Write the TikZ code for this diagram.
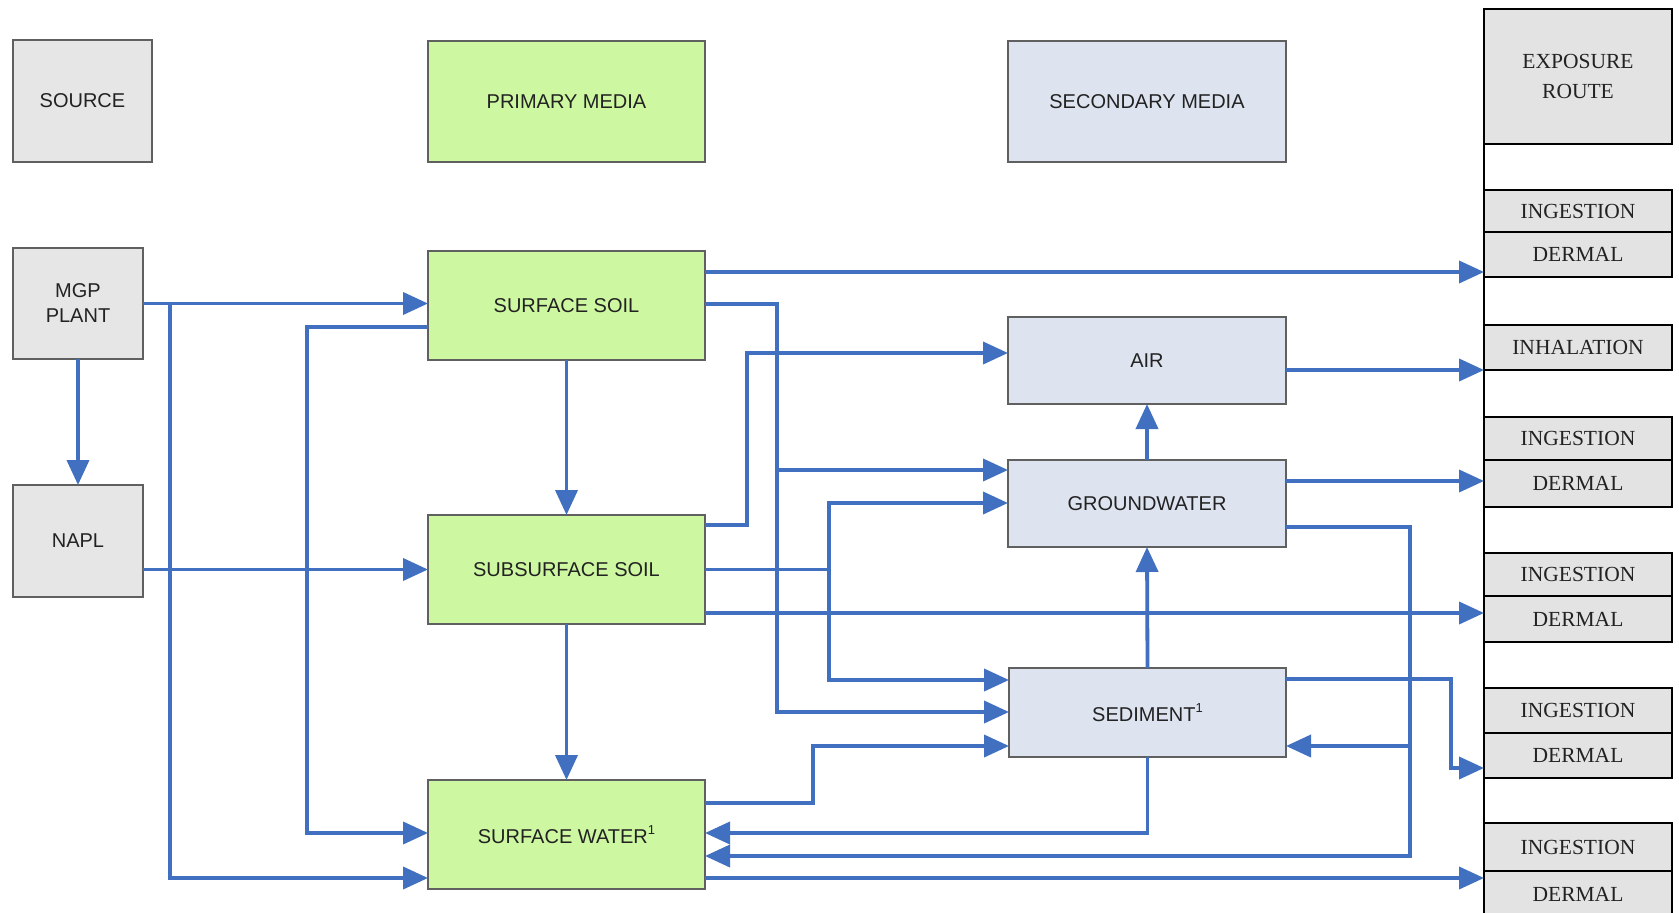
\documentclass[tikz,border=0pt]{standalone}
\usepackage{fontspec}
\setmainfont{Liberation Sans}
\newfontfamily\serifface{Liberation Serif}
\usetikzlibrary{arrows.meta}
\definecolor{lineblue}{HTML}{4070BF}
\definecolor{srcfill}{HTML}{E6E6E6}
\definecolor{srcdraw}{HTML}{606060}
\definecolor{primfill}{HTML}{CEF7A2}
\definecolor{secfill}{HTML}{DDE4F0}
\definecolor{expfill}{HTML}{E3E3E3}
\definecolor{txt}{HTML}{222222}
\newcommand{\supone}{\raisebox{9pt}{\fontsize{13}{13}\selectfont 1}}
\begin{document}
\begin{tikzpicture}[x=1pt,y=-1pt,
  box/.style={draw=srcdraw, line width=1.4pt, inner sep=0pt, outer sep=0pt, align=center,
    text=txt, font=\fontsize{20}{25}\selectfont},
  src/.style={box, fill=srcfill},
  prim/.style={box, fill=primfill},
  sec/.style={box, fill=secfill},
  expbox/.style={draw=black, line width=2.6pt, fill=expfill, inner sep=0pt, outer sep=0pt,
    minimum width=188pt, align=center, text=txt, font=\serifface\fontsize{21.5}{30}\selectfont},
  flow/.style={draw=lineblue, line width=3.8pt, -{Triangle[length=25pt,width=22pt]}},
  plain/.style={draw=lineblue, line width=3.8pt}
]
\useasboundingbox (0,0) rectangle (1679,913);
\fill[white] (0,0) rectangle (1679,913);

% header boxes
\node[src, minimum width=139pt, minimum height=122pt] (source) at (82.5,101) {SOURCE};
\node[prim, minimum width=277pt, minimum height=121pt] (primary) at (566.5,101.5) {PRIMARY MEDIA};
\node[sec, minimum width=278pt, minimum height=121pt] (secondary) at (1147,101.5) {SECONDARY MEDIA};

% source nodes
\node[src, minimum width=130pt, minimum height=111pt] (mgp) at (78,303.5) {MGP\\PLANT};
\node[src, minimum width=130pt, minimum height=112pt] (napl) at (78,541) {NAPL};

% primary media
\node[prim, minimum width=277pt, minimum height=109pt] (ssoil) at (566.5,305.5) {SURFACE SOIL};
\node[prim, minimum width=277pt, minimum height=109pt] (ssub) at (566.5,569.5) {SUBSURFACE SOIL};
\node[prim, minimum width=277pt, minimum height=109pt] (sw) at (566.5,834.5) {SURFACE WATER\supone};

% secondary media
\node[sec, minimum width=278pt, minimum height=87pt] (air) at (1147,360.5) {AIR};
\node[sec, minimum width=278pt, minimum height=87pt] (gw) at (1147,503.5) {GROUNDWATER};
\node[sec, minimum width=277pt, minimum height=89pt] (sed) at (1147.5,712.5) {SEDIMENT\supone};

% exposure route column
\coordinate (coltop) at (1484,9);
\coordinate (colbot) at (1484,920);
\draw[black, line width=2.6pt] (coltop) -- (colbot);
\node[expbox, minimum height=135pt] (er) at (1578,76.5) {EXPOSURE\\ROUTE};
\node[expbox, minimum height=42pt] (ing1) at (1578,211) {INGESTION};
\node[expbox, minimum height=45pt] (der1) at (1578,254.5) {DERMAL};
\node[expbox, minimum height=45pt] (inh) at (1578,347.5) {INHALATION};
\node[expbox, minimum height=43pt] (ing2) at (1578,438.5) {INGESTION};
\node[expbox, minimum height=47pt] (der2) at (1578,483.5) {DERMAL};
\node[expbox, minimum height=43pt] (ing3) at (1578,574.5) {INGESTION};
\node[expbox, minimum height=46pt] (der3) at (1578,619) {DERMAL};
\node[expbox, minimum height=45pt] (ing4) at (1578,710.5) {INGESTION};
\node[expbox, minimum height=45pt] (der4) at (1578,755.5) {DERMAL};
\node[expbox, minimum height=48pt] (ing5) at (1578,847) {INGESTION};
\node[expbox, minimum height=47pt] (der5) at (1578,894.5) {DERMAL};

% junction coordinates
\coordinate (j1) at (170,303.5);
\coordinate (j2) at (307,327);
\coordinate (j3) at (777,304);
\coordinate (j4) at (747,525);
\coordinate (j5) at (829,569.5);
\coordinate (j6) at (813,803);
\coordinate (j7) at (1410,527);
\coordinate (j8) at (1451,679);

% source connectors
\draw[flow] (mgp.east) -- (ssoil.west |- mgp.east);
\draw[flow] (mgp.south) -- (napl.north);
\draw[flow] (j1) |- (sw.west |- 0,878);
\draw[flow] (napl.east |- ssub.west) -- (ssub.west);
\draw[flow] (ssoil.west |- j2) -- (j2) |- (sw.west |- 0,833);

% primary vertical
\draw[flow] (ssoil.south) -- (ssub.north);
\draw[flow] (ssub.south) -- (sw.north);

% surface soil outputs
\draw[flow] (ssoil.east |- 0,272) -- (der1.west |- 0,272);
\draw[flow] (ssoil.east |- j3) -- (j3) |- (sed.west |- 0,712);
\draw[flow] (j3 |- 0,470) -- (gw.west |- 0,470);

% subsurface soil outputs
\draw[flow] (ssub.east |- j4) -- (j4) |- (air.west |- 0,353);
\draw[flow] (ssub.east) -- (j5) |- (gw.west |- 0,503);
\draw[flow] (j5) |- (sed.west |- 0,680);
\draw[flow] (ssub.east |- 0,613) -- (der3.west |- 0,613);

% surface water outputs
\draw[flow] (sw.east |- j6) -- (j6) |- (sed.west |- 0,746);
\draw[flow] (sw.east |- 0,878) -- (der5.west |- 0,878);

% secondary media
\draw[flow] (air.east |- 0,370) -- (inh.west |- 0,370);
\draw[flow] (gw.north) -- (air.south);
\draw[flow] (sed.north) -- (gw.south);
\draw[flow] (gw.east |- 0,481) -- (der2.west |- 0,481);
\draw[flow] (gw.east |- j7) -- (j7) |- (sw.east |- 0,856);
\draw[flow] (j7 |- 0,746) -- (sed.east |- 0,746);
\draw[flow] (sed.east |- j8) -- (j8) |- (der4.west |- 0,768);
\draw[flow] (sed.south) |- (sw.east |- 0,833);
\end{tikzpicture}
\end{document}
